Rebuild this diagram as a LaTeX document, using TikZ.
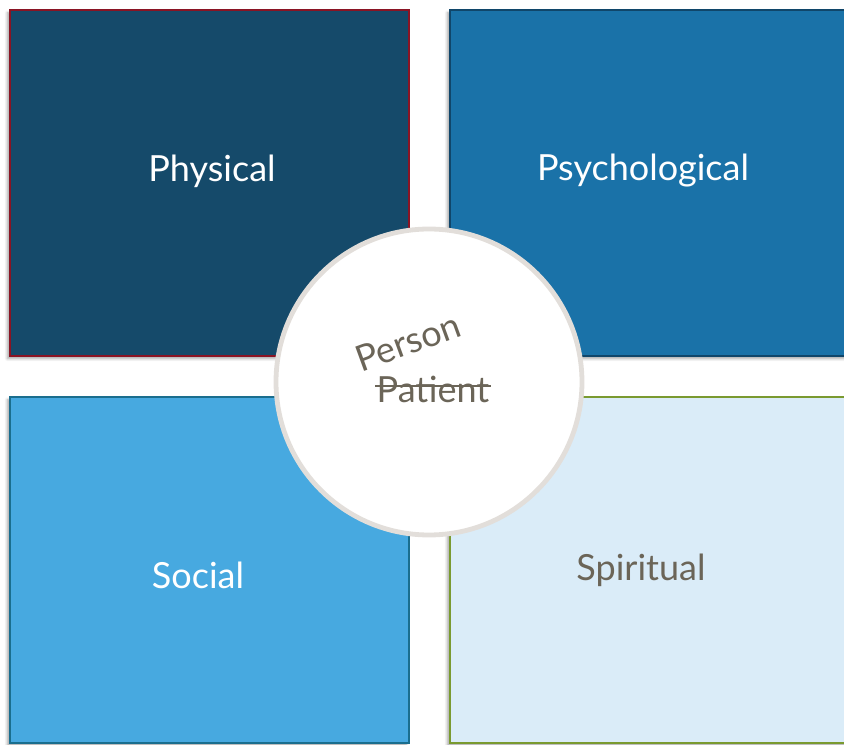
\documentclass[tikz,border=0pt]{standalone}
\usepackage{fontspec}
\setmainfont{Lato}
\usetikzlibrary{shadows.blur}
\definecolor{physfill}{HTML}{154A6A}
\definecolor{physline}{HTML}{8A1424}
\definecolor{psyfill}{HTML}{1A72A8}
\definecolor{psyline}{HTML}{10466A}
\definecolor{socfill}{HTML}{47A9E0}
\definecolor{socline}{HTML}{1A6E8E}
\definecolor{spirfill}{HTML}{DAECF8}
\definecolor{spirline}{HTML}{7A9A30}
\definecolor{ringline}{HTML}{E2DEDA}
\definecolor{inktext}{HTML}{6B6558}
\tikzset{
  quad/.style={draw, line width=1.3pt, blur shadow={shadow xshift=-2pt, shadow yshift=-2pt, shadow blur steps=5, shadow opacity=35}},
  label/.style={font=\fontsize{27}{31}\selectfont, inner sep=0pt},
}
\begin{document}
\begin{tikzpicture}[x=0.75pt,y=-0.75pt]
\useasboundingbox (0,0) rectangle (844,745);
% four quadrants
\filldraw[quad, fill=physfill, draw=physline] (10,10) rectangle (409,356);
\filldraw[quad, fill=psyfill, draw=psyline] (450,10) rectangle (860,356);
\filldraw[quad, fill=socfill, draw=socline] (10,397) rectangle (409,743);
\filldraw[quad, fill=spirfill, draw=spirline] (450,397) rectangle (860,743);
\node[label, text=white] (phys) at (212,171) {Physical};
\node[label, text=white] (psy) at (643,171) {Psychological};
\node[label, text=white] (soc) at (198,575) {Social};
\node[label, text=inktext] (spir) at (641,570) {Spiritual};
% central circle
\node[circle, draw=ringline, line width=3.6pt, fill=white, minimum size=306pt*0.75] (core) at (429,382) {};
\node[label, text=inktext, rotate=20] (person) at (408,342) {Person};
\node[label, text=inktext] (patient) at (433,389) {Patient};
\draw[inktext, line width=1.3pt] ([xshift=-1pt]patient.west |- 0,386) -- ([xshift=1pt]patient.east |- 0,386);
\end{tikzpicture}
\end{document}
